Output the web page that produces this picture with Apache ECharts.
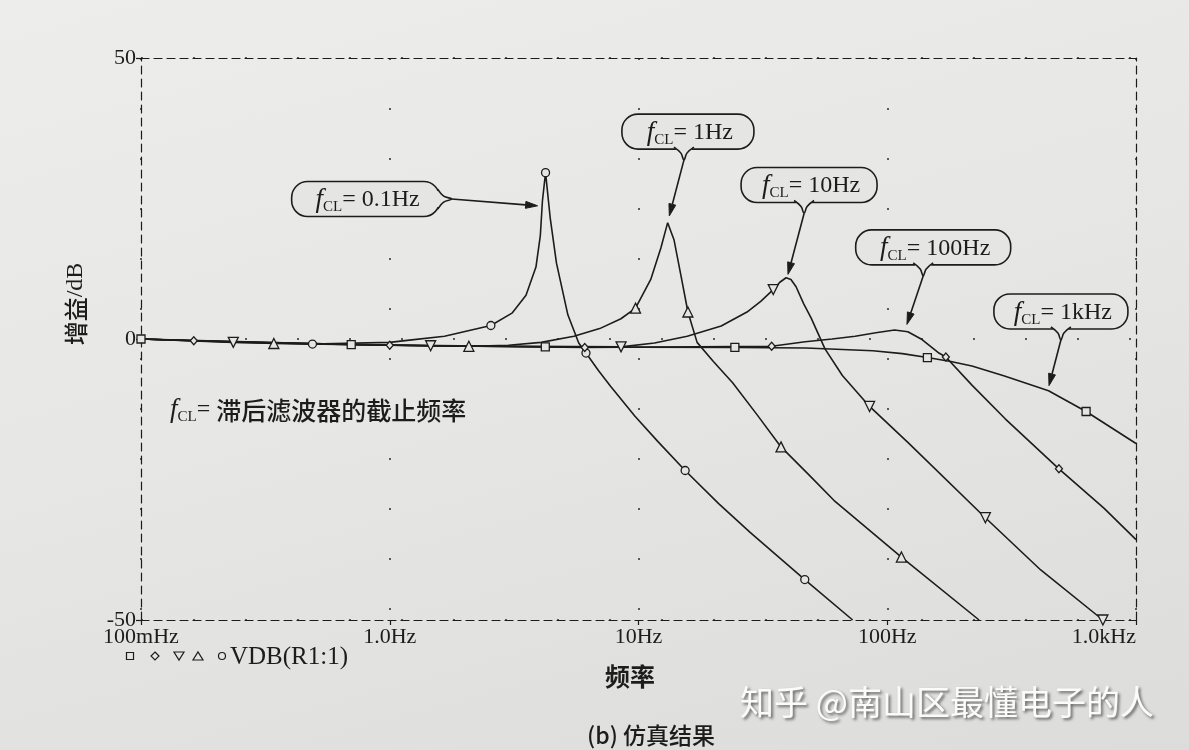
<!DOCTYPE html>
<html>
<head>
<meta charset="utf-8">
<script src="https://cdn.jsdelivr.net/npm/echarts@6.0.0/dist/echarts.min.js"></script>
<style>
html,body{margin:0;padding:0;}
body{background:linear-gradient(165deg,#ededec 0%,#e6e6e4 50%,#dcdcda 100%);}
#chart{width:1189px;height:750px;}
</style>
</head>
<body>
<div id="chart"></div>
<script>
// ---------------- data ----------------
const xTickValues = [0.1, 1, 10, 100, 1000];
const xTickLabels = ['100mHz', '1.0Hz', '10Hz', '100Hz', '1.0kHz'];
const yTickValues = [-50, 0, 50];

// fCL = 0.1 Hz  (circle markers)
const freqA = [0.1, 0.2, 0.489, 1.0, 1.2, 1.66, 2.13, 2.55, 3.1, 3.53, 3.87, 4.03, 4.11, 4.23, 4.42, 4.68, 5.2, 5.75, 6.15, 6.9, 7.72, 9.66, 12.0, 15.4, 21.0, 28.1, 46.6, 72.6];
const gainA = [0, -0.4, -0.9, -0.6, -0.2, 0.5, 1.6, 2.4, 4.6, 7.8, 12.8, 18.4, 24.6, 29.6, 21.4, 13.5, 4.3, -0.7, -2.5, -5.6, -8.4, -13.7, -18.3, -23.4, -29.3, -34.4, -42.8, -50];
const markA = [[0.489, -0.9], [2.55, 2.4], [4.23, 29.6], [6.15, -2.5], [15.4, -23.4], [46.6, -42.8]];

// fCL = 1 Hz  (triangle-up markers)
const freqB = [0.1, 0.342, 1.0, 2.08, 3.0, 4.06, 5.5, 6.98, 8.5, 9.73, 11.2, 12.3, 13.1, 13.9, 14.9, 15.8, 17.2, 20.0, 23.9, 30.0, 37.4, 48.0, 61.0, 114, 234];
const gainB = [0, -0.8, -1.1, -1.3, -1.1, -0.6, 0.5, 1.85, 3.6, 5.5, 10.6, 16.2, 20.7, 17.6, 10.7, 4.8, -0.6, -4.0, -7.8, -13.5, -19.2, -24.0, -28.7, -38.8, -50];
const markB = [[0.342, -0.8], [2.08, -1.3], [9.73, 5.5], [15.8, 4.8], [37.4, -19.2], [114, -38.8]];

// fCL = 10 Hz  (triangle-down markers)
const freqC = [0.1, 0.235, 1.46, 8.51, 11.6, 15.7, 21.5, 27.3, 31.0, 34.8, 37.0, 39.2, 41.0, 43.0, 46.1, 49.4, 56.2, 66.0, 84.9, 121, 248, 414, 736];
const gainC = [0, -0.6, -1.2, -1.4, -0.7, 0.5, 2.3, 4.8, 6.7, 8.8, 10.1, 10.9, 10.6, 9.3, 6.3, 3.75, -1.75, -6.5, -12.0, -18.4, -31.8, -41.1, -50];
const markC = [[0.235, -0.6], [1.46, -1.2], [8.51, -1.4], [34.8, 8.8], [84.9, -12.0], [248, -31.8], [736, -50]];

// fCL = 100 Hz  (diamond markers)
const freqD = [0.1, 0.163, 1.0, 6.08, 34.3, 46.8, 60.0, 74.3, 90.0, 107, 121, 138, 160, 172, 219, 298, 490, 743, 1000];
const gainD = [0, -0.3, -1.1, -1.5, -1.3, -0.5, 0.0, 0.5, 1.1, 1.6, 1.3, -0.1, -2.4, -3.2, -8.2, -14.2, -23.1, -30.1, -35.7];
const markD = [[0.163, -0.3], [1.0, -1.1], [6.08, -1.5], [34.3, -1.3], [172, -3.2], [490, -23.1]];

// fCL = 1 kHz  (square markers)
const freqE = [0.1, 0.7, 4.22, 24.4, 47, 87.5, 115, 145, 180, 219, 296, 445, 630, 1000];
const gainE = [0, -1.0, -1.4, -1.5, -1.6, -2.1, -2.6, -3.3, -4.0, -4.8, -6.6, -9.2, -12.9, -18.6];
const markE = [[0.1, 0], [0.7, -1.0], [4.22, -1.4], [24.4, -1.5], [145, -3.3], [630, -12.9]];

// callout labels and where they sit / point (data coordinates)
const calloutText = ['0.1Hz', '1Hz', '10Hz', '100Hz', '1kHz'];
const calloutAt   = [[0.80, 24.9], [15.8, 36.9], [48.5, 27.4], [153, 16.3], [499, 4.9]];
const calloutTip  = [[3.93, 23.7], [13.3, 21.9], [39.9, 11.5], [120, 2.6], [447, -8.3]];

// ---------------- styling / layout ----------------
const ink = '#1c1c1c';
const paper = '#e5e5e3';
const serif = '"Liberation Serif","DejaVu Serif",serif';
const cjk = '"Noto Sans CJK SC","Noto Sans CJK JP",sans-serif';
const calloutW = [148, 132, 136, 155, 134];
const calloutSide = ['right', 'bottom', 'bottom', 'bottom', 'bottom'];
const calloutBeak = [0, -4, -5, -10, 0];

const curves = [
  {f: freqA, g: gainA, mk: markA, sym: 'circle', size: 8, rot: 0},
  {f: freqB, g: gainB, mk: markB, sym: 'triangle', size: 10, rot: 0},
  {f: freqC, g: gainC, mk: markC, sym: 'triangle', size: 10, rot: 180},
  {f: freqD, g: gainD, mk: markD, sym: 'diamond', size: [7, 8], rot: 0},
  {f: freqE, g: gainE, mk: markE, sym: 'rect', size: 8, rot: 0}
];

const series = [];
curves.forEach(c => {
  series.push({
    type: 'line', xAxisIndex: 0, yAxisIndex: 0,
    data: c.f.map((f, i) => [f, c.g[i]]),
    showSymbol: false, smooth: false, silent: true,
    lineStyle: {color: ink, width: 1.6}, z: 2, animation: false
  });
});
curves.forEach(c => {
  series.push({
    type: 'scatter', xAxisIndex: 0, yAxisIndex: 0,
    data: c.mk, symbol: c.sym, symbolSize: c.size, symbolRotate: c.rot, silent: true,
    itemStyle: {color: paper, borderColor: ink, borderWidth: 1.3, opacity: 1}, z: 4, animation: false
  });
});

const dashed = {color: ink, width: 1.2, type: [8, 5]};
function xLabel(v) {
  const i = xTickValues.findIndex(t => Math.abs(Math.log10(t) - Math.log10(v)) < 1e-6);
  return i >= 0 ? xTickLabels[i] : '';
}

const chart = echarts.init(document.getElementById('chart'), null, {renderer: 'canvas'});
chart.setOption({
  backgroundColor: 'transparent',
  animation: false,
  grid: {left: 141, right: 53, top: 58, bottom: 130, containLabel: false},
  xAxis: [
    {type: 'log', logBase: 10, min: xTickValues[0], max: xTickValues[xTickValues.length - 1], position: 'bottom',
     axisLine: {show: true, onZero: false, lineStyle: dashed},
     axisTick: {show: true, length: 5, lineStyle: {color: ink, width: 1.2}},
     minorTick: {show: false},
     axisLabel: {formatter: xLabel, fontFamily: serif, fontSize: 22, color: ink, margin: 6,
                 showMinLabel: true, showMaxLabel: true, alignMaxLabel: 'right'},
     splitLine: {show: true, lineStyle: {color: '#5a5a5a', width: 2, type: [2, 48]}}},
    {type: 'log', logBase: 10, min: xTickValues[0], max: xTickValues[xTickValues.length - 1], position: 'top',
     axisLine: {show: true, onZero: false, lineStyle: dashed},
     axisTick: {show: false}, axisLabel: {show: false}, splitLine: {show: false}}
  ],
  yAxis: [
    {type: 'value', min: yTickValues[0], max: yTickValues[yTickValues.length - 1], interval: 50, position: 'left',
     axisLine: {show: true, onZero: false, lineStyle: dashed},
     axisTick: {show: true, length: 5, lineStyle: {color: ink, width: 1.2}},
     axisLabel: {fontFamily: serif, fontSize: 22, color: ink, margin: 5},
     splitLine: {show: true, lineStyle: {color: '#5a5a5a', width: 2, type: [2, 50]}}},
    {type: 'value', min: yTickValues[0], max: yTickValues[yTickValues.length - 1], interval: 50, position: 'right',
     axisLine: {show: true, onZero: false, lineStyle: dashed},
     axisTick: {show: false}, axisLabel: {show: false}, splitLine: {show: false}}
  ],
  series: series
});

// ---------------- annotations ----------------
const richF = {
  f: {fontFamily: serif, fontStyle: 'italic', fontSize: 27, lineHeight: 30, fill: ink},
  s: {fontFamily: serif, fontSize: 15, lineHeight: 30, verticalAlign: 'bottom', fill: ink},
  t: {fontFamily: serif, fontSize: 24, lineHeight: 30, fill: ink},
  c: {fontFamily: cjk, fontSize: 25, fontWeight: 500, lineHeight: 30, fill: ink}
};
function px(p) { return chart.convertToPixel({seriesIndex: 0}, p); }

const g = [];
calloutText.forEach((txt, i) => {
  const c = px(calloutAt[i]);
  const tip = px(calloutTip[i]);
  const w = calloutW[i], h = 35;
  g.push({type: 'rect', z: 10, shape: {x: c[0] - w / 2, y: c[1] - h / 2, width: w, height: h, r: 16},
          style: {fill: paper, stroke: ink, lineWidth: 1.6}});
  g.push({type: 'text', z: 11, x: c[0] + 2, y: c[1] + 1,
          style: {text: '{f|f}{s|CL}{t|= ' + txt + '}', rich: richF, align: 'center', verticalAlign: 'middle'}});
  let v, hide, beak;
  if (calloutSide[i] === 'right') {
    const bx = c[0] + w / 2, by = c[1];
    hide = [[bx - 3, by - 8], [bx + 2, by - 8], [bx + 2, by + 8], [bx - 3, by + 8]];
    beak = [[bx - 2, by - 10], [bx + 4, by - 3], [bx + 12, by], [bx + 4, by + 3], [bx - 2, by + 10]];
    v = [bx + 12, by];
  } else {
    const bx = c[0] + calloutBeak[i], by = c[1] + h / 2;
    hide = [[bx - 8, by - 3], [bx + 8, by - 3], [bx + 8, by + 2], [bx - 8, by + 2]];
    beak = [[bx - 10, by - 2], [bx - 3, by + 4], [bx, by + 11], [bx + 3, by + 4], [bx + 10, by - 2]];
    v = [bx, by + 11];
  }
  g.push({type: 'polygon', z: 12, shape: {points: hide}, style: {fill: paper, stroke: null}});
  g.push({type: 'polyline', z: 13, shape: {points: beak, smooth: 0.4}, style: {stroke: ink, lineWidth: 1.6, fill: null}});
  const dx = tip[0] - v[0], dy = tip[1] - v[1], L = Math.hypot(dx, dy), ux = dx / L, uy = dy / L;
  const hl = 12, hw = 3.5;
  const base = [tip[0] - ux * hl, tip[1] - uy * hl];
  g.push({type: 'polyline', z: 13, shape: {points: [v, base]}, style: {stroke: ink, lineWidth: 1.6}});
  g.push({type: 'polygon', z: 13, shape: {points: [tip, [base[0] - uy * hw, base[1] + ux * hw], [base[0] + uy * hw, base[1] - ux * hw]]},
          style: {fill: ink, stroke: ink, lineWidth: 1}});
});

// axis names, note, legend, caption
g.push({type: 'text', x: 76, y: 304, rotation: Math.PI / 2,
        style: {text: '{c|增益}{t|/dB}', rich: {c: {fontFamily: cjk, fontSize: 24, fontWeight: 500, fill: ink}, t: {fontFamily: serif, fontSize: 24, fill: ink}},
                align: 'center', verticalAlign: 'middle'}});
g.push({type: 'text', x: 630, y: 676,
        style: {text: '频率', fontFamily: cjk, fontSize: 25, fontWeight: 'bold', fill: ink, align: 'center', verticalAlign: 'middle'}});
g.push({type: 'text', x: 651, y: 735,
        style: {text: '(b) 仿真结果', fontFamily: cjk, fontSize: 23, fontWeight: 500, fill: ink, align: 'center', verticalAlign: 'middle'}});
g.push({type: 'text', x: 170, y: 410,
        style: {text: '{f|f}{s|CL}{t|= }{c|滞后滤波器的截止频率}', rich: richF, align: 'left', verticalAlign: 'middle'}});

// legend row: marker symbols + trace name
const lx = 130, ly = 656, lst = {fill: paper, stroke: ink, lineWidth: 1.2};
g.push({type: 'rect', shape: {x: lx - 3.5, y: ly - 3.5, width: 7, height: 7}, style: lst});
g.push({type: 'polygon', shape: {points: [[lx + 25, ly - 4], [lx + 29, ly], [lx + 25, ly + 4], [lx + 21, ly]]}, style: lst});
g.push({type: 'polygon', shape: {points: [[lx + 44, ly - 4], [lx + 54, ly - 4], [lx + 49, ly + 4]]}, style: lst});
g.push({type: 'polygon', shape: {points: [[lx + 63, ly + 4], [lx + 73, ly + 4], [lx + 68, ly - 4]]}, style: lst});
g.push({type: 'circle', shape: {cx: lx + 92, cy: ly, r: 3.5}, style: lst});
g.push({type: 'text', x: lx + 100, y: ly + 1,
        style: {text: 'VDB(R1:1)', fontFamily: serif, fontSize: 25, fill: ink, align: 'left', verticalAlign: 'middle'}});

// watermark of the source photo
g.push({type: 'text', x: 947, y: 702, z: 20,
        style: {text: '知乎 @南山区最懂电子的人', fontFamily: cjk, fontSize: 34, fill: '#fbfbfb',
                textShadowColor: 'rgba(0,0,0,0.55)', textShadowBlur: 3, textShadowOffsetX: 2, textShadowOffsetY: 2,
                align: 'center', verticalAlign: 'middle'}});

chart.setOption({graphic: g});
</script>
</body>
</html>
